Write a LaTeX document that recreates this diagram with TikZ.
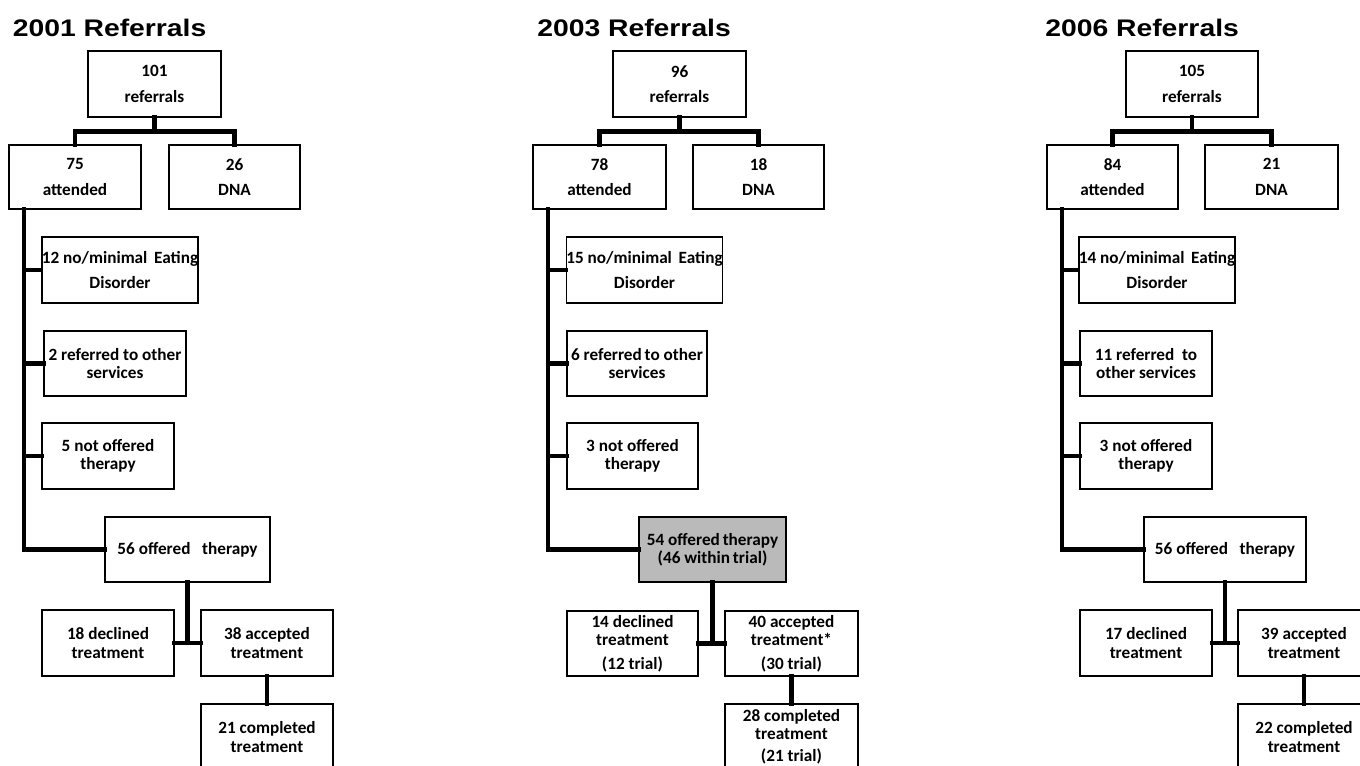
\documentclass[tikz,border=0pt]{standalone}
\usepackage{fontspec}
\newfontfamily\boxfont{Carlito}
\newfontfamily\titlefont{Liberation Sans}[FakeStretch=1.18]
\begin{document}
\begin{tikzpicture}[x=0.75pt,y=-0.75pt,
  bx/.style 2 args={draw, line width=1.2pt, fill=white, inner xsep=0pt, inner ysep=1pt, align=center,
     minimum width=#1*0.75pt, minimum height=#2*0.75pt,
     font=\boxfont\bfseries\fontsize{12.9}{13.6}\selectfont},
  graybox/.style={fill=black!27},
  conn/.style={line width=3.6pt, line cap=rect},
  ttl/.style={anchor=base west, inner sep=0pt, font=\titlefont\bfseries\fontsize{18}{20}\selectfont}]
\useasboundingbox (0,0) rectangle (1360,766);
\clip (0,0) rectangle (1360,766);

% ---------------- 2001 ----------------
\node[ttl] (Lt) at (12.5,37) {2001 Referrals};
\node[bx={133}{66}] (Ltop) at (154.5,84) {101\\[5.5pt]referrals};
\node[bx={132}{64}] (Latt) at (75,177) {75\\[5.5pt]attended};
\node[bx={131}{64}] (Ldna) at (234.5,177) {26\\[5.5pt]DNA};
\node[bx={154}{66}] (Lno) at (120,270) {12 no/minimal\ \,Eating\\[4.5pt]Disorder};
\node[bx={142}{65}] (Lref) at (115,363.5) {2 referred to other\\services};
\node[bx={132}{66}] (Lnot) at (108,456) {5 not offered\\therapy};
\node[bx={165}{65}] (Loff) at (187.5,549.5) {56 offered\ \ \ therapy};
\node[bx={132}{66}] (Ldec) at (108,643) {18 declined\\treatment};
\node[bx={132}{66}] (Lacc) at (267,643) {38 accepted\\treatment};
\node[bx={132}{66}] (Lcomp) at (267,737) {21 completed\\treatment};
\coordinate (Ltr) at (24,0);
\draw[conn] (Ltop.south) -- ++(0,14) -| (Latt.north);
\draw[conn] (Ltop.south) -- ++(0,14) -| (Ldna.north);
\draw[conn] (Latt.south -| Ltr) |- (Loff.west);
\draw[conn] (Lno.west -| Ltr) -- (Lno.west);
\draw[conn] (Lref.west -| Ltr) -- (Lref.west);
\draw[conn] (Lnot.west -| Ltr) -- (Lnot.west);
\draw[conn] (Loff.south) -- (Loff.south |- Ldec.east);
\draw[conn] (Ldec.east) -- (Lacc.west);
\draw[conn] (Lacc.south) -- (Lcomp.north);

% ---------------- 2003 ----------------
\node[ttl] (Mt) at (537,37) {2003 Referrals};
\node[bx={133}{66}] (Mtop) at (679.5,84) {96\\[5.5pt]referrals};
\node[bx={133}{64}] (Matt) at (599.5,177) {78\\[5.5pt]attended};
\node[bx={131}{64}] (Mdna) at (758.5,177) {18\\[5.5pt]DNA};
\node[bx={155}{66}] (Mno) at (644.5,270) {15 no/minimal\ \,Eating\\[4.5pt]Disorder};
\node[bx={140}{65}] (Mref) at (637,363.5) {6 referred\,to other\\services};
\node[bx={131}{66}] (Mnot) at (632.5,456) {3 not offered\\therapy};
\node[bx={147}{65}, graybox] (Moff) at (712.5,549.5) {54 offered\,therapy\\(46 within\,trial)};
\node[bx={131}{65}] (Mdec) at (632.5,643.5) {14 declined\\treatment\\[4pt](12 trial)};
\node[bx={133}{65}] (Macc) at (791.5,643.5) {40 accepted\\treatment*\\[4pt](30 trial)};
\node[bx={133}{66}] (Mcomp) at (791.5,737) {28 completed\\treatment\\[3pt](21 trial)};
\coordinate (Mtr) at (548,0);
\draw[conn] (Mtop.south) -- ++(0,14) -| (Matt.north);
\draw[conn] (Mtop.south) -- ++(0,14) -| (Mdna.north);
\draw[conn] (Matt.south -| Mtr) |- (Moff.west);
\draw[conn] (Mno.west -| Mtr) -- (Mno.west);
\draw[conn] (Mref.west -| Mtr) -- (Mref.west);
\draw[conn] (Mnot.west -| Mtr) -- (Mnot.west);
\draw[conn] (Moff.south) -- (Moff.south |- Mdec.east);
\draw[conn] (Mdec.east) -- (Macc.west);
\draw[conn] (Macc.south) -- (Mcomp.north);

% ---------------- 2006 ----------------
\node[ttl] (Rt) at (1045,37) {2006 Referrals};
\node[bx={132}{66}] (Rtop) at (1192,84) {105\\[5.5pt]referrals};
\node[bx={131}{64}] (Ratt) at (1112.5,177) {84\\[5.5pt]attended};
\node[bx={133}{64}] (Rdna) at (1271.5,177) {21\\[5.5pt]DNA};
\node[bx={154}{66}] (Rno) at (1157,270) {14 no/minimal\ \,Eating\\[4.5pt]Disorder};
\node[bx={132}{65}] (Rref) at (1146,363.5) {11 referred\ \ to\\other services};
\node[bx={132}{66}] (Rnot) at (1146,456) {3 not offered\\therapy};
\node[bx={162}{65}] (Roff) at (1225,549.5) {56 offered\ \ \ therapy};
\node[bx={132}{66}] (Rdec) at (1146,643) {17 declined\\treatment};
\node[bx={132}{66}] (Racc) at (1304,643) {39 accepted\\treatment};
\node[bx={132}{66}] (Rcomp) at (1304,737) {22 completed\\treatment};
\coordinate (Rtr) at (1062,0);
\draw[conn] (Rtop.south) -- ++(0,14) -| (Ratt.north);
\draw[conn] (Rtop.south) -- ++(0,14) -| (Rdna.north);
\draw[conn] (Ratt.south -| Rtr) |- (Roff.west);
\draw[conn] (Rno.west -| Rtr) -- (Rno.west);
\draw[conn] (Rref.west -| Rtr) -- (Rref.west);
\draw[conn] (Rnot.west -| Rtr) -- (Rnot.west);
\draw[conn] (Roff.south) -- (Roff.south |- Rdec.east);
\draw[conn] (Rdec.east) -- (Racc.west);
\draw[conn] (Racc.south) -- (Rcomp.north);
\end{tikzpicture}
\end{document}
